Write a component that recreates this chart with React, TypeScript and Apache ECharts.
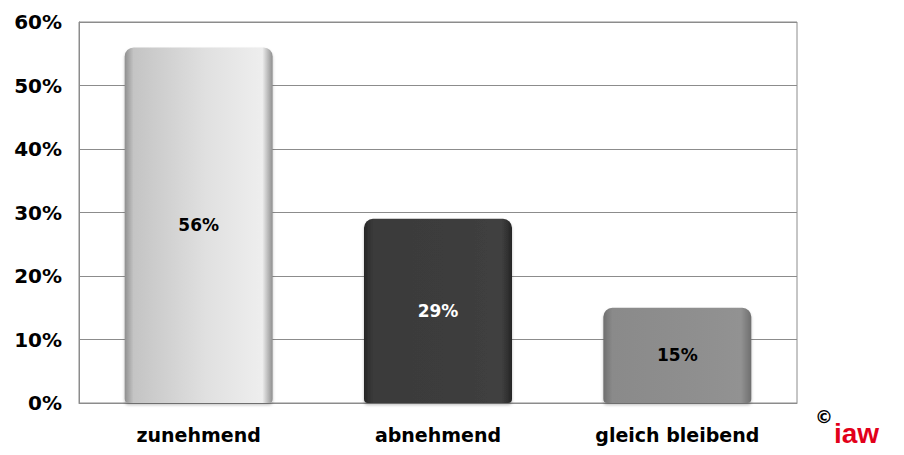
import React, { useEffect, useRef } from "react";
import * as echarts from "echarts";

const categories = ["zunehmend", "abnehmend", "gleich bleibend"];
const values = [56, 29, 15];
const yTicks = [0, 10, 20, 30, 40, 50, 60];

// Bevelled grey fills: darker side edges, lighter body
const fills = [
  { edge: "#8f8f8f", left: "#c4c4c4", mid: "#e0e0e0", right: "#eeeeee", label: "#000000" },
  { edge: "#262626", left: "#3a3a3a", mid: "#3c3c3c", right: "#404040", label: "#ffffff" },
  { edge: "#6e6e6e", left: "#8a8a8a", mid: "#8e8e8e", right: "#929292", label: "#000000" },
];

const FONT = "DejaVu Sans, Verdana, sans-serif";
const LOGO_FONT = '"Liberation Sans", Arial, sans-serif';

function barColor(i: number) {
  const f = fills[i];
  return new echarts.graphic.LinearGradient(0, 0, 1, 0, [
    { offset: 0, color: f.edge },
    { offset: 0.06, color: f.left },
    { offset: 0.55, color: f.mid },
    { offset: 0.93, color: f.right },
    { offset: 1, color: f.edge },
  ]);
}

export default function App() {
  const ref = useRef<HTMLDivElement>(null);

  useEffect(() => {
    if (!ref.current) return;
    const chart = echarts.init(ref.current, undefined, { renderer: "svg" });
    chart.setOption({
      animation: false,
      backgroundColor: "#ffffff",
      grid: {
        left: 79,
        right: 107,
        top: 22,
        bottom: 52,
        show: true,
        borderColor: "#8c8c8c",
        borderWidth: 1,
      },
      xAxis: {
        type: "category",
        data: categories,
        axisTick: { show: false },
        axisLine: { lineStyle: { color: "#8c8c8c" } },
        axisLabel: {
          margin: 22,
          fontFamily: FONT,
          fontWeight: "bold",
          fontSize: 19,
          color: "#000",
        },
      },
      yAxis: {
        type: "value",
        min: yTicks[0],
        max: yTicks[yTicks.length - 1],
        interval: 10,
        axisLine: { show: true, lineStyle: { color: "#8c8c8c" } },
        axisTick: { show: false },
        splitLine: { lineStyle: { color: "#8c8c8c" } },
        axisLabel: {
          margin: 17,
          fontFamily: FONT,
          fontWeight: "bold",
          fontSize: 20,
          color: "#000",
          formatter: (v: number) => `${v}%`,
        },
      },
      series: [
        {
          type: "bar",
          barWidth: 148,
          data: values.map((v, i) => ({
            value: v,
            itemStyle: {
              color: barColor(i),
              borderRadius: [9, 9, 4, 4],
              shadowColor: "rgba(0,0,0,0.25)",
              shadowBlur: 3,
              shadowOffsetY: 2,
            },
            label: { color: fills[i].label },
          })),
          label: {
            show: true,
            position: "inside",
            fontFamily: FONT,
            fontWeight: "bold",
            fontSize: 17,
            formatter: (p: any) => `${p.value}%`,
          },
        },
      ],
      graphic: [
        {
          type: "text",
          left: 815,
          top: 407,
          style: { text: "©", font: `bold 18px ${FONT}`, fill: "#000" },
        },
        {
          type: "text",
          left: 834,
          top: 419,
          style: {
            text: "iaw",
            font: `bold 28px ${LOGO_FONT}`,
            lineHeight: 28,
            fill: "#e2001a",
          },
        },
        {
          type: "text",
          left: 834,
          top: 448,
          style: {
            text: "Institut Arbeit und Wirtsch",
            font: `italic bold 5px ${LOGO_FONT}`,
            lineHeight: 6,
            fill: "#222",
          },
        },
      ],
    });
    return () => chart.dispose();
  }, []);

  return <div ref={ref} style={{ width: 904, height: 455, margin: -8 }} />;
}
